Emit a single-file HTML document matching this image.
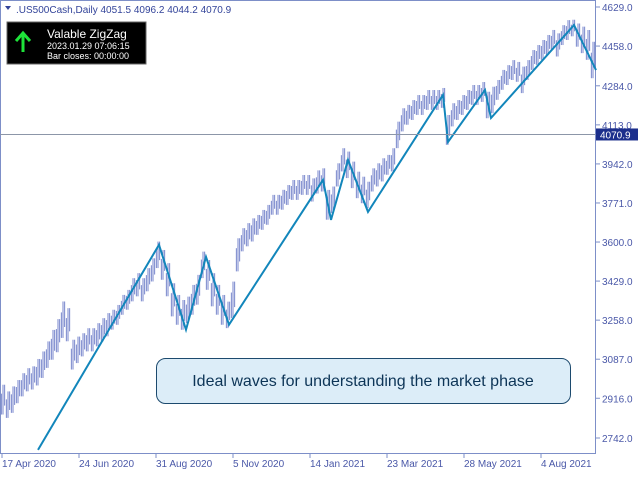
<!DOCTYPE html>
<html><head><meta charset="utf-8"><style>
html,body{margin:0;padding:0;background:#fff;}
body{width:640px;height:480px;position:relative;overflow:hidden;font-family:"Liberation Sans",sans-serif;}
svg{position:absolute;left:0;top:0;}
</style></head><body>
<svg id="chart" width="640" height="480">
<rect x="0.5" y="0.5" width="595" height="453" fill="#fff" stroke="#7d8fc8"/>
<g id="grid"></g><g id="bars"></g><g id="zz"></g><g id="yaxis"></g><g id="xaxis"></g>
<g>
<path d="M5,6 L11,6 L8,10 Z" fill="#33449a"/>
<text x="16" y="13" font-size="10" fill="#33449a">.US500Cash,Daily  4051.5 4096.2 4044.2 4070.9</text>
</g>
<g>
<rect x="7" y="22" width="139" height="42" fill="#000" stroke="#666"/>
<path d="M23,52 L23,34 M16,41 L23,33 L30,41" stroke="#1ee33a" stroke-width="3" fill="none"/>
<text x="47" y="38" font-size="12" fill="#fff">Valable ZigZag</text>
<text x="47" y="49" font-size="9" fill="#fff">2023.01.29 07:06:15</text>
<text x="47" y="59" font-size="9" fill="#fff">Bar closes: 00:00:00</text>
</g>
<g>
<rect x="156.5" y="358.5" width="414" height="45" rx="9" fill="#dcedf8" stroke="#1c4a6e"/>
<text x="363" y="386" font-size="16" fill="#0d3557" text-anchor="middle">Ideal waves for understanding the market phase</text>
</g>
</svg>
<script>
const closes=[2910,2888,2910,2945,2975,2997,3005,3030,3063,3107,3150,3190,3260,3238,3107,3128,3150,3172,3172,3194,3216,3238,3260,3281,3325,3347,3391,3413,3391,3435,3478,3544,3500,3435,3347,3303,3281,3303,3347,3391,3500,3456,3391,3347,3303,3281,3347,3544,3610,3632,3653,3675,3697,3719,3763,3763,3785,3806,3828,3828,3850,3850,3828,3863,3872,3763,3785,3894,3960,3938,3894,3850,3828,3806,3872,3894,3916,3938,3960,4069,4135,4157,4178,4200,4200,4222,4222,4222,4231,4091,4157,4178,4200,4222,4244,4244,4257,4200,4222,4266,4310,4331,4353,4345,4310,4353,4397,4419,4441,4463,4485,4463,4506,4528,4537,4506,4485,4463,4397];
const halfRanges=[45,40,40,35,35,35,35,40,40,40,45,50,55,50,45,40,35,35,35,35,35,35,30,30,30,30,35,35,35,35,35,40,45,50,50,45,45,40,45,45,40,45,50,45,45,40,55,50,35,35,35,30,30,30,30,30,30,30,30,30,30,30,35,35,35,45,40,35,35,40,40,40,40,40,35,35,35,30,35,40,35,30,30,30,30,30,30,30,30,45,35,30,30,30,30,30,30,40,40,30,30,30,30,30,40,30,30,30,30,30,30,35,30,30,25,35,40,45,55];
const zzIdx=[7,31.2,36.6,40.6,45.2,64,65.6,69,73,88,89,96.4,97.6,114.2,118.6];
const zzPrice=[2690,3588,3216,3535,3238,3872,3697,3960,3732,4244,4038,4266,4143,4550,4353];
const yTicks=[4629.0,4458.0,4284.0,4113.0,3942.0,3771.0,3600.0,3429.0,3258.0,3087.0,2916.0,2742.0];
const xLabels=["17 Apr 2020","24 Jun 2020","31 Aug 2020","5 Nov 2020","14 Jan 2021","23 Mar 2021","28 May 2021","4 Aug 2021"];
const xLabelIdx=[0,15.4,30.8,46.2,61.6,77,92.4,107.8];
const lastPrice=4070.9;
const NS="http://www.w3.org/2000/svg";
const Y=p=>7+(4629-p)*431/1887;
const X=i=>3+i*5;
function mk(t,a,parent){const e=document.createElementNS(NS,t);for(const k in a)e.setAttribute(k,a[k]);parent.appendChild(e);return e;}
const bars=document.getElementById('bars');
closes.forEach((c,i)=>{
 const h=halfRanges[i]*1.45;
 for(let s=0;s<3;s++){
  const off=(s-1)*h*0.3;
  const b=mk('line',{x1:X(i)+s*1.6-1.6,x2:X(i)+s*1.6-1.6,y1:Y(c+h-Math.abs(off)+off),y2:Y(c-h+Math.abs(off)+off),stroke:'#8390d0','stroke-width':1.1},bars);
  
  
 }
});
const zz=document.getElementById('zz');
const pl=mk('polyline',{points:zzIdx.map((v,i)=>X(v)+','+Y(zzPrice[i])).join(' '),fill:'none',stroke:'#1286bb','stroke-width':2},zz);


const ya=document.getElementById('yaxis');
yTicks.forEach(t=>{
 const tx=mk('text',{x:602,y:Y(t)+4,'font-size':10,fill:'#4a58a8'},ya);
 tx.textContent=t.toFixed(1);
 
 
 mk('line',{x1:596,x2:600,y1:Y(t),y2:Y(t),stroke:'#7d8fc8'},ya);
});
const hl=mk('line',{x1:0,x2:596,y1:Y(lastPrice),y2:Y(lastPrice),stroke:'#8c96a8'},ya);


const lb=mk('rect',{x:596,y:Y(lastPrice)-6,width:42,height:12,fill:'#1c2f8c'},ya);


const lt=mk('text',{x:600,y:Y(lastPrice)+4,'font-size':10,fill:'#fff'},ya);
lt.textContent=lastPrice.toFixed(1);


const xa=document.getElementById('xaxis');
xLabels.forEach((l,i)=>{
 const x=X(xLabelIdx[i])-1;
 mk('line',{x1:x,x2:x,y1:453,y2:458,stroke:'#7d8fc8'},xa);
 const t=mk('text',{x:x,y:467,'font-size':10,fill:'#4a58a8'},xa);
 t.textContent=l;
 
 
});
</script>
</body></html>
